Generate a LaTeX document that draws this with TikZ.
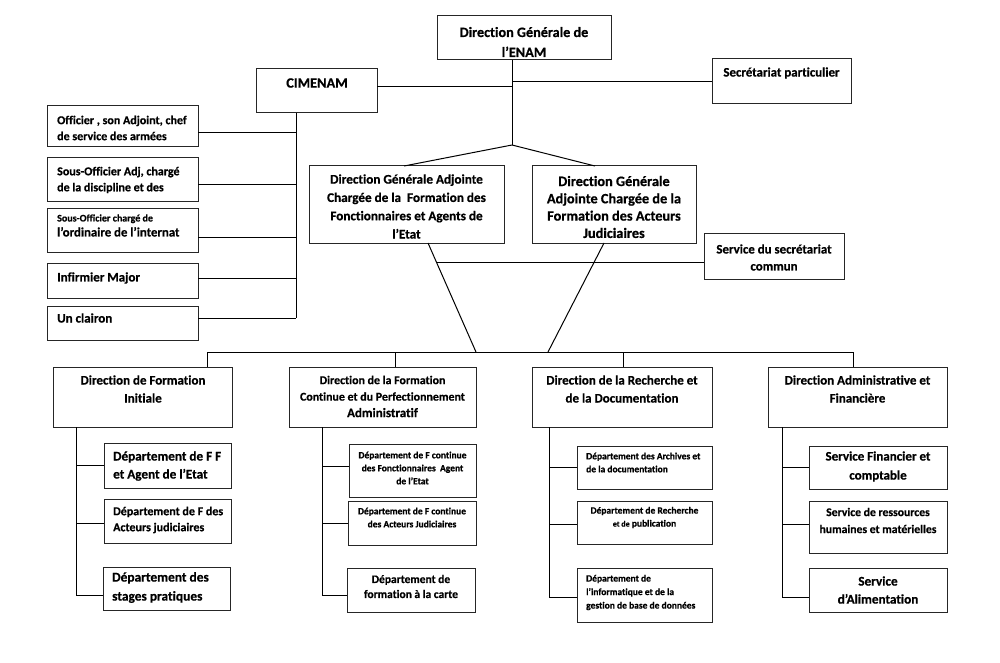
\documentclass[tikz,border=0pt]{standalone}
\usepackage{fontspec}
\setmainfont{Carlito}[Ligatures={NoCommon}, BoldFeatures={FakeBold=0.6}]
\usetikzlibrary{calc}
\newcommand\setfs[2]{\fontsize{#1pt}{#2pt}\selectfont\bfseries}
\newcommand\orgbox[5]{\node[box, minimum width={(#4)-(#2)}, minimum height={(#5)-(#3)}] (#1) at ({((#2)+(#4))/2},{((#3)+(#5))/2}) {};}
\tikzset{
  box/.style={draw=black!85, line width=1pt, inner sep=0pt, outer sep=0pt},
  conn/.style={line width=1pt, black},
  txt/.style={inner sep=0pt, align=center},
  ltxt/.style={inner sep=0pt, align=left, anchor=west}
}
\begin{document}
\begin{tikzpicture}[x=1pt,y=-1pt]
\useasboundingbox[fill=white] (0,0) rectangle (1000,663);

% ---------- boxes ----------
\orgbox{dg}{437}{16}{611}{60}
\orgbox{cim}{256}{69}{377}{113}
\orgbox{sec}{712}{59}{851}{104}
\orgbox{off}{47}{106}{198}{147}
\orgbox{soa}{47}{158}{198}{201}
\orgbox{soc}{47}{208}{198}{252}
\orgbox{infm}{47}{263}{198}{298}
\orgbox{clai}{47}{306}{198}{340}
\orgbox{dga1}{309}{166}{504}{243}
\orgbox{dga2}{532}{166}{696}{243}
\orgbox{ssc}{704}{233}{844}{279}
\orgbox{dfi}{53}{367}{232}{427}
\orgbox{dfc}{289}{367}{476}{427}
\orgbox{drd}{532}{367}{712}{427}
\orgbox{daf}{768}{367}{947}{427}
\orgbox{ff}{104}{443}{231}{488}
\orgbox{fa}{104}{499}{231}{543}
\orgbox{stg}{103}{567}{230}{610}
\orgbox{cf}{349}{444}{476}{497}
\orgbox{ca}{348}{501}{476}{545}
\orgbox{fc}{347}{568}{475}{612}
\orgbox{arc}{577}{446}{712}{489}
\orgbox{rec}{577}{501}{712}{544}
\orgbox{info}{577}{568}{712}{622}
\orgbox{sf}{809}{446}{947}{489}
\orgbox{srh}{809}{501}{947}{553}
\orgbox{sal}{809}{568}{947}{612}

% ---------- texts ----------
\node[txt, font=\setfs{14.2}{20}] (dgT) at (524,42) {Direction Générale de\\l’ENAM};
\node[txt, font=\setfs{14.3}{16}] (cimT) at (317,83) {CIMENAM};
\node[txt, font=\setfs{12.9}{16}] (secT) at (781.5,73) {Secrétariat particulier};
\node[ltxt, font=\setfs{12}{16}] (offT) at (57,128) {Officier , son Adjoint, chef\\de service des armées};
\node[ltxt, font=\setfs{12}{16}] (soaT) at (57,180) {Sous-Officier Adj, chargé\\de la discipline et des};
\node[ltxt, font=\setfs{12.8}{15}] (socT) at (57,225.5) {{\fontsize{10pt}{15pt}\selectfont Sous-Officier chargé de}\\l’ordinaire de l’internat};
\node[ltxt, font=\setfs{13}{16}] (infmT) at (57,278) {Infirmier Major};
\node[ltxt, font=\setfs{13}{16}] (claiT) at (57,318) {Un clairon};
\node[txt, font=\setfs{13.2}{18.3}] (dga1T) at (406.5,206.5) {Direction Générale Adjointe\\Chargée de la \ Formation des\\Fonctionnaires et Agents de\\l’Etat};
\node[txt, font=\setfs{14.3}{17.3}] (dga2T) at (614,207) {Direction Générale\\Adjointe Chargée de la\\Formation des Acteurs\\Judiciaires};
\node[txt, font=\setfs{12.9}{17}] (sscT) at (774,257.5) {Service du secrétariat\\commun};
\node[txt, font=\setfs{13}{18}] (dfiT) at (143,389) {Direction de Formation\\Initiale};
\node[txt, font=\setfs{11.9}{16.5}] (dfcT) at (382.5,396.5) {Direction de la Formation\\Continue et du Perfectionnement\\{\fontsize{13pt}{16.5pt}\selectfont Administratif}};
\node[txt, font=\setfs{13}{18}] (drdT) at (622,389) {Direction de la Recherche et\\de la Documentation};
\node[txt, font=\setfs{13}{18}] (dafT) at (857.5,389) {Direction Administrative et\\Financière};
\node[ltxt, font=\setfs{13.2}{18}] (ffT) at (113,466) {Département de F F\\et Agent de l’Etat};
\node[ltxt, font=\setfs{12}{16}] (faT) at (113,520) {Département de F des\\Acteurs judiciaires};
\node[ltxt, font=\setfs{13.4}{19}] (stgT) at (112,587.5) {Département des\\stages pratiques};
\node[txt, font=\setfs{9.5}{13}] (cfT) at (412.5,468) {Département de F continue\\des Fonctionnaires \ Agent\\de l’Etat};
\node[txt, font=\setfs{9.5}{13}] (caT) at (412,517.5) {Département de F continue\\des Acteurs Judiciaires};
\node[txt, font=\setfs{11.5}{15}] (fcT) at (411,586.5) {Département de\\formation à la carte};
\node[ltxt, font=\setfs{9.5}{13}] (arcT) at (586,462.5) {Département des Archives et\\de la documentation};
\node[txt, font=\setfs{9.5}{13}] (recT) at (644.5,517.5) {Département de Recherche\\{\fontsize{8pt}{13pt}\selectfont et de} publication};
\node[ltxt, font=\setfs{9.5}{13.5}] (infoT) at (586,592.5) {Département de\\l’informatique et de la\\gestion de base de données};
\node[txt, font=\setfs{13}{19}] (sfT) at (878,466.5) {Service Financier et\\comptable};
\node[txt, font=\setfs{11.7}{17}] (srhT) at (878,520.5) {Service de ressources\\humaines et matérielles};
\node[txt, font=\setfs{13.2}{18}] (salT) at (878,590) {Service\\d’Alimentation};

% ---------- top connectors ----------
\coordinate (dgt) at ([xshift=-12pt]dg.south);
\coordinate (apex) at (512,145);
\draw[conn] (dgt) -- (apex);
\draw[conn] (apex) -- ([xshift=95pt]dga1.north west);
\draw[conn] (apex) -- ([xshift=63pt]dga2.north west);
\coordinate (cimj) at ([yshift=4pt]cim.east);
\draw[conn] (cimj) -- (cimj -| dgt);
\draw[conn] (sec.west) -- (sec.west -| dgt);

% CIMENAM branch
\coordinate (ct) at ([xshift=-20.5pt]cim.south);
\coordinate (c1) at ([yshift=-6.5pt]off.east);
\coordinate (c2) at ([yshift=-4.5pt]soa.east);
\coordinate (c3) at ([yshift=-7pt]soc.east);
\coordinate (c4) at ([yshift=2.5pt]infm.east);
\coordinate (c5) at ([yshift=5pt]clai.east);
\draw[conn] (ct) -- (ct |- c5);
\foreach \c in {c1,c2,c3,c4,c5} \draw[conn] (\c) -- (ct |- \c);

% ---------- middle connectors ----------
\coordinate (busL) at (207,352);
\coordinate (b2) at (395,352);
\coordinate (m1) at (476,352);
\coordinate (m2) at (548,352);
\coordinate (b3) at (623,352);
\coordinate (busR) at (853,352);
\coordinate (d1a) at ([xshift=21.5pt]dga1.south);
\coordinate (d2a) at ([xshift=-10pt]dga2.south);
\draw[conn] (d1a) -- (m1);
\draw[conn] (d2a) -- (m2);
\coordinate (sj) at ($(d1a)!0.183!(m1)$);
\draw[conn] (sj) -- (sj -| ssc.west);
\draw[conn] (busL) -- (busR);
\draw[conn] (busL) -- (busL |- dfi.north);
\draw[conn] (b2) -- (b2 |- dfc.north);
\draw[conn] (b3) -- (b3 |- drd.north);
\draw[conn] (busR) -- (busR |- daf.north);

% ---------- lower branches ----------
% DFI
\coordinate (t1) at ([xshift=23pt]dfi.south west);
\coordinate (e11) at (ff.west);
\coordinate (e12) at ([yshift=-2pt]fa.west);
\coordinate (e13) at ([yshift=-6.5pt]stg.west);
\draw[conn] (t1) -- (t1 |- e13);
\foreach \c in {e11,e12,e13} \draw[conn] (\c) -- (t1 |- \c);
% DFC
\coordinate (t2) at ([xshift=33pt]dfc.south west);
\coordinate (e21) at ([yshift=4.5pt]cf.west);
\coordinate (e22) at (ca.west);
\coordinate (e23) at ([yshift=-5pt]fc.west);
\draw[conn] (t2) -- (t2 |- e23);
\foreach \c in {e21,e22,e23} \draw[conn] (\c) -- (t2 |- \c);
% DRD
\coordinate (t3) at ([xshift=17pt]drd.south west);
\coordinate (e31) at (arc.west);
\coordinate (e32) at ([yshift=-1.5pt]rec.west);
\coordinate (e33) at ([yshift=-2pt]info.west);
\draw[conn] (t3) -- (t3 |- e33);
\foreach \c in {e31,e32,e33} \draw[conn] (\c) -- (t3 |- \c);
% DAF
\coordinate (t4) at ([xshift=14pt]daf.south west);
\coordinate (e41) at (sf.west);
\coordinate (e42) at ([yshift=3pt]srh.west);
\coordinate (e43) at ([yshift=-7pt]sal.west);
\draw[conn] (t4) -- (t4 |- e43);
\foreach \c in {e41,e42,e43} \draw[conn] (\c) -- (t4 |- \c);
\end{tikzpicture}
\end{document}
